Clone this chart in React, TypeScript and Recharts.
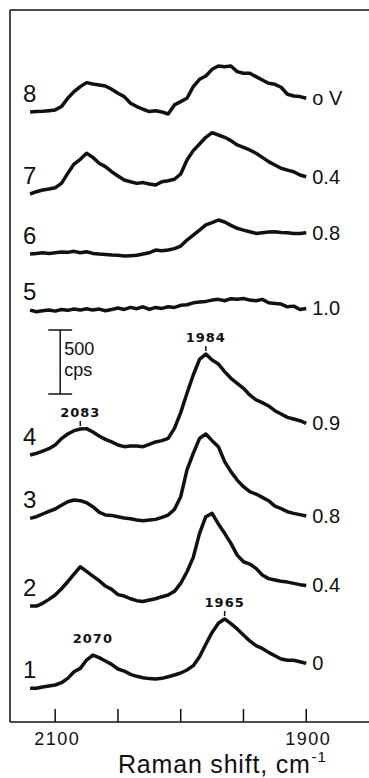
import { LineChart, Line, XAxis, YAxis, ReferenceLine, ReferenceDot } from "recharts";

// Raman shift, cm-1 (plotted high -> low)
const wavenumbers = [
  2120, 2115, 2110, 2105, 2100, 2095, 2090, 2085, 2080, 2075, 2070, 2065, 2060, 2055, 2050,
  2045, 2040, 2035, 2030, 2025, 2020, 2015, 2010, 2005, 2000, 1995, 1990, 1985, 1980, 1975,
  1970, 1965, 1960, 1955, 1950, 1945, 1940, 1935, 1930, 1925, 1920, 1915, 1910, 1905, 1900,
];

// intensity above each trace's own baseline, cps
const trace1 = [0, 0, 10, 18, 26, 44, 78, 130, 156, 221, 260, 240, 214, 187, 151, 135, 109, 94, 83, 76, 73, 78, 91, 104, 120, 143, 177, 247, 344, 437, 508, 542, 505, 464, 417, 370, 333, 312, 281, 255, 229, 219, 219, 208, 195];
const trace2 = [0, 0, 21, 52, 86, 135, 190, 250, 307, 271, 234, 198, 156, 130, 89, 78, 57, 42, 36, 47, 57, 73, 86, 115, 177, 268, 380, 568, 698, 724, 641, 568, 490, 398, 346, 328, 294, 242, 214, 203, 193, 187, 177, 167, 161];
const trace3 = [0, 13, 34, 55, 73, 102, 130, 143, 138, 122, 91, 49, 26, 23, 13, 3, -3, -13, -18, -13, -8, 8, 26, 70, 169, 378, 508, 625, 659, 607, 560, 443, 365, 299, 247, 208, 190, 164, 138, 96, 76, 52, 39, 29, 18];
const trace4 = [0, 13, 31, 49, 78, 128, 164, 190, 203, 206, 180, 148, 122, 102, 78, 65, 70, 70, 65, 83, 102, 112, 130, 208, 331, 482, 625, 747, 789, 742, 711, 651, 599, 560, 521, 469, 430, 409, 383, 346, 320, 294, 281, 268, 247];
const trace5 = [5, -8, 0, 5, -3, 10, 3, 13, 5, 16, 5, 13, 0, 10, 21, 10, 26, 16, 31, 10, 26, 18, 31, 26, 42, 47, 62, 68, 73, 83, 89, 78, 94, 89, 96, 83, 78, 89, 62, 57, 52, 31, 36, 10, 18];
const trace6 = [0, 5, 10, 5, 10, 16, 13, 21, 10, 18, 5, 0, -3, -8, -10, -16, -13, -10, 0, 10, 31, 26, 31, 42, 62, 109, 148, 187, 227, 245, 266, 250, 224, 201, 187, 174, 161, 167, 172, 174, 169, 167, 161, 161, 167];
const trace7 = [0, 18, 31, 39, 49, 83, 161, 234, 271, 318, 286, 240, 214, 174, 141, 109, 96, 83, 89, 78, 70, 96, 104, 115, 156, 266, 339, 391, 443, 479, 461, 443, 417, 383, 365, 344, 318, 286, 253, 227, 201, 187, 174, 148, 135];
const trace8 = [0, 3, 5, 10, 16, 42, 107, 159, 198, 229, 219, 211, 203, 177, 146, 120, 68, 42, 21, 3, 10, 0, -16, 55, 81, 107, 198, 255, 281, 333, 359, 354, 359, 315, 302, 302, 276, 250, 224, 216, 193, 138, 125, 120, 107];

// vertical offset of each trace, cps
const baselines = [263, 906, 1591, 2086, 3213, 3656, 4125, 4766];
const traceNumbers = ["1", "2", "3", "4", "5", "6", "7", "8"];
const potentials = ["0", "0.4", "0.8", "0.9", "1.0", "0.8", "0.4", "o V"];

const xTicks = [2100, 2050, 2000, 1950, 1900];
const labelledTicks = [2100, 1900];

const peakMarks = [
  { text: "2083", trace: 4, near: 2083, tick: true },
  { text: "1984", trace: 4, near: 1984, tick: true },
  { text: "2070", trace: 1, near: 2070, tick: false },
  { text: "1965", trace: 1, near: 1965, tick: true },
];

const scaleBarCps = 500;

const traces = [trace1, trace2, trace3, trace4, trace5, trace6, trace7, trace8];

const data = wavenumbers.map((w, i) => {
  const row: Record<string, number> = { w };
  traces.forEach((t, k) => {
    row[`t${k + 1}`] = baselines[k] + t[i];
  });
  return row;
});

const CPS_PER_PX = 500 / 64;
const Y_MAX = 712 * CPS_PER_PX;
const X_DOMAIN = [1850, 2136];
const INK = "#111";
const FONT = "'Liberation Sans', Arial, sans-serif";

const peaks = peakMarks.map((p) => {
  const t = traces[p.trace - 1];
  let best = -1;
  wavenumbers.forEach((w, i) => {
    if (Math.abs(w - p.near) <= 6 && (best < 0 || t[i] > t[best])) best = i;
  });
  return { ...p, w: wavenumbers[best], y: baselines[p.trace - 1] + t[best] };
});

const BottomTick = (props: any) => {
  const { x, y, payload } = props;
  return (
    <g>
      <line x1={x} x2={x} y1={y} y2={y - 13} stroke={INK} strokeWidth={1.5} />
      {labelledTicks.includes(payload.value) && (
        <text x={x + 2} y={y + 23} textAnchor="middle" fontSize={18} letterSpacing={1.5} fontFamily={FONT} fill={INK}>
          {payload.value}
        </text>
      )}
    </g>
  );
};

const makeLabel = (k: number) => (props: any) => {
  const x = props.x ?? props.viewBox?.x;
  const y = props.y ?? props.viewBox?.y;
  if (props.index === 0) {
    return (
      <text x={x - 7} y={y - 10} fontSize={24} fontFamily={FONT} fill={INK}>
        {traceNumbers[k]}
      </text>
    );
  }
  if (props.index === wavenumbers.length - 1) {
    return (
      <text x={x + 6} y={y + 7} fontSize={20} fontFamily={FONT} fill={INK}>
        {potentials[k]}
      </text>
    );
  }
  return null;
};

export default function App() {
  const barX = 2096;
  const barBottom = 2562.5;
  const barTop = barBottom + scaleBarCps;

  return (
    <div style={{ position: "absolute", left: 0, top: 0, width: 369, height: 778, background: "#fff" }}>
      <LineChart width={369} height={778} data={data} margin={{ top: 10, right: 0, left: 10, bottom: 0 }}>
        <XAxis
          dataKey="w"
          type="number"
          domain={X_DOMAIN}
          reversed
          allowDataOverflow
          ticks={xTicks}
          height={56}
          tickSize={0}
          tickMargin={0}
          tickLine={false}
          tick={<BottomTick />}
          axisLine={{ stroke: INK, strokeWidth: 1.5 }}
          interval={0}
        />
        <YAxis type="number" domain={[0, Y_MAX]} allowDataOverflow hide />

        {/* frame: top and left edges */}
        <ReferenceLine y={Y_MAX} stroke={INK} strokeWidth={1.5} />
        <ReferenceLine x={X_DOMAIN[1]} stroke={INK} strokeWidth={1.5} />

        {traces.map((_, k) => (
          <Line
            key={k}
            dataKey={`t${k + 1}`}
            type="linear"
            stroke={INK}
            strokeWidth={3.5}
            strokeLinejoin="round"
            dot={false}
            isAnimationActive={false}
            label={makeLabel(k)}
          />
        ))}

        {/* 500 cps scale bar */}
        <ReferenceLine segment={[{ x: barX, y: barBottom }, { x: barX, y: barTop }]} stroke={INK} strokeWidth={1.5} />
        <ReferenceLine segment={[{ x: barX + 9.5, y: barTop }, { x: barX - 9.5, y: barTop }]} stroke={INK} strokeWidth={1.5} />
        <ReferenceLine segment={[{ x: barX + 9.5, y: barBottom }, { x: barX - 9.5, y: barBottom }]} stroke={INK} strokeWidth={1.5} />
        <ReferenceDot
          x={barX}
          y={barTop}
          r={0}
          shape={(s: any) => (
            <g>
              <text x={s.cx + 4} y={s.cy + 25} fontSize={18} fontFamily={FONT} fill={INK}>
                {scaleBarCps}
              </text>
              <text x={s.cx + 4} y={s.cy + 46} fontSize={18} fontFamily={FONT} fill={INK}>
                cps
              </text>
            </g>
          )}
        />

        {peaks.map((p) =>
          p.tick ? (
            <ReferenceLine
              key={`tick-${p.text}`}
              segment={[
                { x: p.w, y: p.y + 3 * CPS_PER_PX },
                { x: p.w, y: p.y + 8 * CPS_PER_PX },
              ]}
              stroke={INK}
              strokeWidth={1.5}
            />
          ) : null
        )}
        {peaks.map((p) => (
          <ReferenceDot
            key={`peak-${p.text}`}
            x={p.w}
            y={p.y + 12 * CPS_PER_PX}
            r={0}
            shape={(s: any) => (
              <text
                x={s.cx}
                y={s.cy}
                textAnchor="middle"
                fontSize={13}
                fontWeight="bold"
                letterSpacing={1}
                fontFamily="'DejaVu Sans', sans-serif"
                fill={INK}
              >
                {p.text}
              </text>
            )}
          />
        ))}
      </LineChart>
      <svg width={369} height={778} style={{ position: "absolute", left: 0, top: 0, pointerEvents: "none" }}>
        <text x={118} y={773} fontSize={25} letterSpacing={0.8} fontFamily={FONT} fill={INK}>
          Raman shift, cm
          <tspan dx={1} dy={-11} fontSize={15}>-1</tspan>
        </text>
      </svg>
    </div>
  );
}
